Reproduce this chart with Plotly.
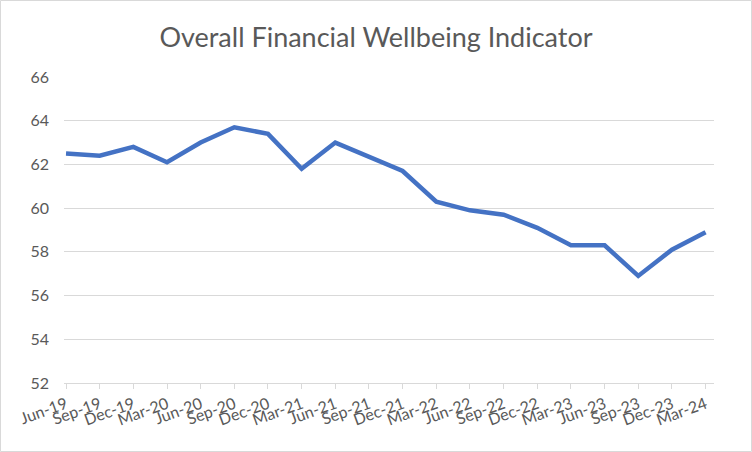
import plotly.graph_objects as go

categories = ["Jun-19", "Sep-19", "Dec-19", "Mar-20", "Jun-20", "Sep-20", "Dec-20",
              "Mar-21", "Jun-21", "Sep-21", "Dec-21", "Mar-22", "Jun-22", "Sep-22",
              "Dec-22", "Mar-23", "Jun-23", "Sep-23", "Dec-23", "Mar-24"]
values = [62.5, 62.4, 62.8, 62.1, 63.0, 63.7, 63.4, 61.8, 63.0, 62.35, 61.7, 60.3,
          59.9, 59.7, 59.1, 58.3, 58.3, 56.9, 58.1, 58.9]
y_ticks = [52, 54, 56, 58, 60, 62, 64, 66]

W, H = 752, 452
L, R, T, B = 64, 38, 77, 69
pw, ph = W - L - R, H - T - B

fig = go.Figure()
fig.add_trace(go.Scatter(x=list(range(len(categories))), y=values, mode="lines",
                         line=dict(color="#4472C4", width=4.5), hoverinfo="skip"))

fig.update_layout(
    width=W, height=H,
    margin=dict(l=L, r=R, t=T, b=B, autoexpand=False),
    paper_bgcolor="white", plot_bgcolor="white",
    showlegend=False,
    font=dict(family="Lato, Open Sans, sans-serif", color="#595959", size=16),
    title=dict(text="Overall Financial Wellbeing Indicator", x=0.5, xanchor="center",
               y=1 - 38 / H, yanchor="middle",
               font=dict(size=27, color="#595959", family="Lato, Open Sans, sans-serif")),
    xaxis=dict(range=[-0.06, 19.25], tickmode="array",
               tickvals=list(range(len(categories))), ticktext=categories,
               tickangle=-20, showgrid=False, zeroline=False,
               showline=True, linecolor="#d9d9d9", linewidth=1,
               ticks="outside", ticklen=5, tickcolor="#d9d9d9",
               tickfont=dict(size=16, color="#595959")),
    yaxis=dict(range=[52, 66], tickvals=y_ticks, showgrid=True, gridcolor="#d9d9d9",
               gridwidth=1, zeroline=False, showline=False, ticks="",
               ticklabelstandoff=14,
               tickfont=dict(size=16, color="#595959")),
    shapes=[dict(type="rect", xref="paper", yref="paper",
                 x0=(0.5 - L) / pw, x1=(W - 0.5 - L) / pw,
                 y0=-(B - 0.5) / ph, y1=1 + (T - 0.5) / ph,
                 line=dict(color="#d9d9d9", width=1), layer="below")],
)

fig.write_html("out.html", config={"displayModeBar": False},
               post_script="document.body.style.margin='0';document.body.style.overflow='hidden';")
